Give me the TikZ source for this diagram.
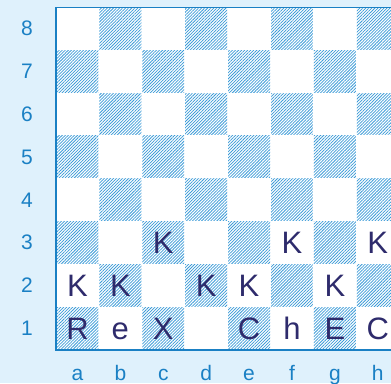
\documentclass[tikz,border=0pt]{standalone}
\usepackage{fontspec}
\setmainfont{Liberation Sans}
\usepackage{tikz}
\usetikzlibrary{patterns.meta}
\definecolor{boardbg}{HTML}{DFF1FC}
\definecolor{boardline}{HTML}{1A80C4}
\definecolor{hatch}{HTML}{3B9BD8}
\definecolor{piece}{HTML}{2E2B6C}

\begin{document}
\begin{tikzpicture}[x=1pt,y=1pt,
  darksq/.style={pattern={Lines[angle=45,distance=2.15pt,line width=0.75pt]},pattern color=hatch},
  coordlab/.style={text=boardline,font=\fontsize{21}{21}\selectfont,inner sep=0pt},
  pc/.style={text=piece,font=\fontsize{31}{31}\selectfont,anchor=base,inner sep=0pt}]
\useasboundingbox (0,0) rectangle (391,383);
\fill[boardbg] (0,0) rectangle (391,383);
\begin{scope}
\clip (0,0) rectangle (391,383);
\fill[white] (56,33) rectangle (400,375.5);
% hatched squares
\foreach \f in {1,...,8}
  \foreach \r in {1,...,8}{
    \pgfmathparse{int(mod(\f+\r,2))}
    \ifnum\pgfmathresult=0
      \fill[darksq] ({56+(\f-1)*42.9+0.5},{33+(\r-1)*42.9+0.5}) rectangle ++(41.9,41.9);
    \fi
  }
% frame
\draw[boardline,line width=1.8pt] (400,375.5) -- (56,375.5) -- (56,33) -- (400,33);
\end{scope}
% ranks and files
\foreach \r in {1,...,8}
  \node[coordlab] (rank\r) at (27,{33+(\r-0.5)*42.9}) {\r};
\foreach \l [count=\f] in {a,b,c,d,e,f,g,h}
  \node[coordlab,anchor=base] (file\l) at ({56+(\f-0.5)*42.9},2.5) {\l};
% pieces
\foreach \p/\f/\r in {R/1/1,e/2/1,X/3/1,C/5/1,h/6/1,E/7/1,C/8/1,
                     K/1/2,K/2/2,K/4/2,K/5/2,K/7/2,
                     K/3/3,K/6/3,K/8/3}
  \node[pc] (p\f\r) at ({56+(\f-0.5)*42.9},{33+(\r-0.5)*42.9-11}) {\p};
\end{tikzpicture}
\end{document}
